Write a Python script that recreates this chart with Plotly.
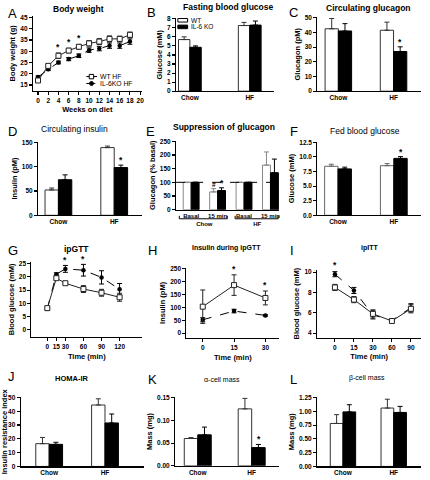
import plotly.graph_objects as go

W, H = 430, 480
FONT = "Liberation Sans, Arial, sans-serif"

# ---------------- data ----------------
weeks = [0, 2, 4, 6, 8, 10, 12, 14, 16, 18]
bw_wt = [17.0, 23.5, 28.0, 30.3, 32.0, 33.5, 34.3, 35.5, 35.5, 37.3]
bw_wt_err = [0.5, 0.8, 1.2, 1.0, 1.0, 1.2, 1.3, 1.3, 1.2, 1.2]
bw_ko = [18.5, 22.0, 25.0, 26.5, 28.0, 30.5, 31.2, 32.5, 32.5, 34.3]
bw_ko_err = [0.5, 0.6, 0.6, 0.7, 0.8, 1.0, 1.0, 1.2, 1.2, 1.2]
bw_sig_weeks = [4, 6, 8]

groups = ["Chow", "HF"]

fbg_wt = [5.7, 7.25]
fbg_wt_err = [0.3, 0.35]
fbg_ko = [4.85, 7.3]
fbg_ko_err = [0.15, 0.45]

gcg_wt = [42.5, 41.5]
gcg_wt_err = [7.0, 5.5]
gcg_ko = [41.0, 27.0]
gcg_ko_err = [5.0, 3.2]
gcg_sig = ["HF"]

ins_wt = [52.0, 139.0]
ins_wt_err = [4.0, 3.0]
ins_ko = [73.0, 98.0]
ins_ko_err = [10.0, 5.0]
ins_sig = ["HF"]

supp_diet = ["Chow", "Chow", "HF", "HF"]
supp_time = ["Basal", "15 min", "Basal", "15 min"]
supp_wt = [100, 65, 100, 163]
supp_wt_err = [0, 12, 0, 48]
supp_ko = [100, 70, 100, 135]
supp_ko_err = [0, 10, 0, 50]
basal_ref = 100

fed_wt = [8.4, 8.5]
fed_wt_err = [0.35, 0.35]
fed_ko = [7.95, 9.75]
fed_ko_err = [0.3, 0.3]
fed_sig = ["HF"]

gtt_time = [0, 15, 30, 60, 90, 120]
gtt_wt = [8.2, 19.5, 17.6, 15.4, 14.0, 12.3]
gtt_wt_err = [0.4, 0.5, 0.5, 1.3, 1.3, 1.5]
gtt_ko = [8.0, 21.0, 23.0, 22.5, 19.8, 15.3]
gtt_ko_err = [0.4, 0.5, 1.3, 2.2, 2.5, 2.2]
gtt_sig = [30, 60]

gins_time = [0, 15, 30]
gins_wt = [103, 187, 137]
gins_wt_err = [65, 40, 27]
gins_ko = [52, 86, 69]
gins_ko_err = [8, 7, 3]
gins_sig = [15, 30]

itt_time = ["0", "15", "30", "60", "90"]
itt_wt = [8.5, 7.3, 5.9, 5.2, 6.4]
itt_wt_err = [0.3, 0.3, 0.4, 0.1, 0.4]
itt_ko = [9.8, 8.2, 5.8, 5.25, 6.5]
itt_ko_err = [0.25, 0.3, 0.4, 0.1, 0.4]
itt_sig = ["0"]

homa_wt = [16.5, 44.5]
homa_wt_err = [4.5, 4.5]
homa_ko = [16.0, 31.5]
homa_ko_err = [1.5, 6.5]

alpha_wt = [0.060, 0.125]
alpha_wt_err = [0.002, 0.023]
alpha_ko = [0.068, 0.040]
alpha_ko_err = [0.017, 0.007]
alpha_sig = ["HF"]

beta_wt = [0.78, 1.06]
beta_wt_err = [0.16, 0.16]
beta_ko = [0.99, 0.98]
beta_ko_err = [0.13, 0.11]

# ---------------- helpers ----------------
fig = go.Figure()
layout = {}
annotations = []
shapes = []
axinfo = {}


def names(n):
    s = "" if n == 1 else str(n)
    return "xaxis" + s, "yaxis" + s, "x" + s, "y" + s


def font(size=7, bold=True, color="black"):
    return dict(family=FONT, size=size, color=color, weight="bold" if bold else "normal")


def setup(n, box, xr, yr, xkw=None, ykw=None, xtitle=None, ytitle=None):
    xa, ya, xref, yref = names(n)
    l, t, r, b = box
    base = dict(showline=True, linecolor="black", linewidth=1.1, showgrid=False,
                zeroline=False, ticks="outside", ticklen=3, tickwidth=1.1,
                tickcolor="black", tickfont=font(6.5), fixedrange=True, tickangle=0)
    x = dict(base, domain=[l / W, r / W], range=xr, anchor=yref)
    y = dict(base, domain=[1 - b / H, 1 - t / H], range=yr, anchor=xref)
    if xkw:
        x.update(xkw)
    if ykw:
        y.update(ykw)
    if xtitle:
        x["title"] = dict(text=xtitle, font=font(7.5), standoff=4)
    if ytitle:
        y["title"] = dict(text=ytitle, font=font(7.5), standoff=3)
    layout[xa] = x
    layout[ya] = y
    axinfo[n] = dict(pxu=(r - l) / (xr[1] - xr[0]))


def label(txt, x, y, size=13):
    annotations.append(dict(text=txt, x=x / W, y=1 - y / H, xref="paper", yref="paper",
                            xanchor="left", yanchor="top", showarrow=False,
                            font=dict(family=FONT, size=size, color="black")))


def title(txt, x, y, size=8.5, bold=True):
    annotations.append(dict(text=txt, x=x / W, y=1 - y / H, xref="paper", yref="paper",
                            xanchor="center", yanchor="middle", showarrow=False,
                            font=font(size, bold)))


def star(n, x, y, xshift=0, txt="*", size=8.5):
    _, _, xref, yref = names(n)
    annotations.append(dict(text=txt, x=x, y=y, xref=xref, yref=yref, xanchor="center",
                            yanchor="bottom", showarrow=False, xshift=xshift, yshift=-2,
                            font=font(size)))


def bars(n, cats, wt, wt_err, ko, ko_err, width, wt_line="#333333", sig=None):
    _, _, xref, yref = names(n)
    fig.add_trace(go.Bar(x=cats, y=wt, width=width, offset=-width, xaxis=xref, yaxis=yref,
                         marker=dict(color="white", line=dict(color=wt_line, width=1)),
                         error_y=dict(type="data", array=wt_err, arrayminus=[0] * len(wt),
                                      symmetric=False, color=wt_line, thickness=1, width=2.5),
                         cliponaxis=False, showlegend=False, name="WT"))
    fig.add_trace(go.Bar(x=cats, y=ko, width=width, offset=0, xaxis=xref, yaxis=yref,
                         marker=dict(color="black", line=dict(color="black", width=1)),
                         error_y=dict(type="data", array=ko_err, arrayminus=[0] * len(ko),
                                      symmetric=False, color="black", thickness=1, width=2.5),
                         cliponaxis=False, showlegend=False, name="IL-6 KO"))
    if sig:
        half = width * axinfo[n]["pxu"] / 2
        for c in sig:
            i = cats.index(c)
            star(n, c, ko[i] + ko_err[i], xshift=half)


def lines(n, x, wt, wt_err, ko, ko_err, msize=5):
    _, _, xref, yref = names(n)
    fig.add_trace(go.Scatter(x=x, y=ko, xaxis=xref, yaxis=yref, mode="lines+markers",
                             line=dict(color="black", width=1, dash="dash"),
                             marker=dict(symbol="circle", size=msize - 0.5, color="black"),
                             error_y=dict(type="data", array=ko_err, color="black",
                                          thickness=1, width=2.5),
                             cliponaxis=False, showlegend=False, name="IL-6KO"))
    fig.add_trace(go.Scatter(x=x, y=wt, xaxis=xref, yaxis=yref, mode="lines+markers",
                             line=dict(color="#222222", width=1),
                             marker=dict(symbol="square", size=msize, color="white",
                                         line=dict(color="#222222", width=1)),
                             error_y=dict(type="data", array=wt_err, color="#222222",
                                          thickness=1, width=2.5),
                             cliponaxis=False, showlegend=False, name="WT"))


notick = dict(ticks="", type="category")

# ---------------- A: body weight ----------------
setup(1, (26.5, 13, 137.5, 89), [-1.0, 20.29], [12.37, 45.75],
      xkw=dict(tickvals=list(range(0, 21, 2))), ykw=dict(tickvals=list(range(15, 46, 5))),
      xtitle="Weeks on diet", ytitle="Body weight (g)")
lines(1, weeks, bw_wt, bw_wt_err, bw_ko, bw_ko_err, msize=5)
for wk in bw_sig_weeks:
    i = weeks.index(wk)
    star(1, wk, bw_wt[i] + bw_wt_err[i] + 0.5)
label("A", -1, 1)
title("Body weight", 73, 6)
# legend A
shapes.append(dict(type="line", xref="paper", yref="paper", x0=81 / W, x1=92 / W,
                   y0=1 - 74.5 / H, y1=1 - 74.5 / H, line=dict(color="black", width=1)))
shapes.append(dict(type="rect", xref="paper", yref="paper", x0=84 / W, x1=88.5 / W,
                   y0=1 - 76.8 / H, y1=1 - 72.3 / H, fillcolor="white",
                   line=dict(color="black", width=1)))
shapes.append(dict(type="line", xref="paper", yref="paper", x0=81 / W, x1=92 / W,
                   y0=1 - 81.5 / H, y1=1 - 81.5 / H,
                   line=dict(color="black", width=1, dash="dash")))
shapes.append(dict(type="circle", xref="paper", yref="paper", x0=84.3 / W, x1=88.3 / W,
                   y0=1 - 83.5 / H, y1=1 - 79.5 / H, fillcolor="black",
                   line=dict(color="black", width=1)))
for txt, yy in (("WT HF", 74.5), ("IL-6KO HF", 81.5)):
    annotations.append(dict(text=txt, x=93 / W, y=1 - yy / H, xref="paper", yref="paper",
                            xanchor="left", yanchor="middle", showarrow=False,
                            font=font(6.8, False)))

# ---------------- B: fasting glucose ----------------
setup(2, (172.7, 15.5, 273, 89.3), [-0.23, 1.41], [0, 8.05], xkw=notick,
      ykw=dict(tickvals=list(range(0, 9))), ytitle="Glucose (mM)")
bars(2, groups, fbg_wt, fbg_wt_err, fbg_ko, fbg_ko_err, 0.19)
label("B", 141, 0)
title("Fasting blood glucose", 226, 4)
shapes.append(dict(type="rect", xref="paper", yref="paper", x0=174.5 / W, x1=184.5 / W,
                   y0=1 - 19.3 / H, y1=1 - 15.7 / H, fillcolor="white",
                   line=dict(color="black", width=1)))
shapes.append(dict(type="rect", xref="paper", yref="paper", x0=174.5 / W, x1=184.5 / W,
                   y0=1 - 26 / H, y1=1 - 22.4 / H, fillcolor="black",
                   line=dict(color="black", width=1)))
for txt, yy in (("WT", 17.5), ("IL-6 KO", 24.2)):
    annotations.append(dict(text=txt, x=186 / W, y=1 - yy / H, xref="paper", yref="paper",
                            xanchor="left", yanchor="middle", showarrow=False,
                            font=font(6.5, False)))

# ---------------- C: glucagon ----------------
setup(3, (317, 14.5, 423, 89.3), [-0.38, 1.50], [0, 50.3], xkw=notick,
      ykw=dict(tickvals=list(range(0, 51, 10))), ytitle="Glucagon (pM)")
bars(3, groups, gcg_wt, gcg_wt_err, gcg_ko, gcg_ko_err, 0.24, sig=gcg_sig)
label("C", 286, 0)
title("Circulating glucagon", 369, 5)

# ---------------- D: insulin ----------------
setup(4, (31.7, 140.5, 138, 215), [-0.365, 1.5], [0, 151], xkw=notick,
      ykw=dict(tickvals=[0, 50, 100, 150]), ytitle="Insulin (pM)")
bars(4, groups, ins_wt, ins_wt_err, ins_ko, ins_ko_err, 0.24, sig=ins_sig)
label("D", -1, 121)
title("Circulating insulin", 69, 127.5, bold=False, size=8.5)

# ---------------- E: suppression of glucagon ----------------
setup(5, (172.7, 139.5, 278, 209.3), [-0.57, 3.33], [0, 252],
      xkw=dict(ticks="", type="multicategory", showdividers=False, tickfont=font(6)),
      ykw=dict(tickvals=[0, 50, 100, 150, 200, 250]), ytitle="Glucagon (% basal)")
bars(5, [supp_diet, supp_time], supp_wt, supp_wt_err, supp_ko, supp_ko_err, 0.3,
     wt_line="#888888")
shapes.append(dict(type="line", xref="x5 domain", yref="y5", x0=0, x1=1,
                   y0=basal_ref, y1=basal_ref, line=dict(color="black", width=1, dash="dash")))
half5 = 0.3 * axinfo[5]["pxu"] / 2
annotations.append(dict(text="#", x=1, y=supp_wt[1] + supp_wt_err[1], xref="x5", yref="y5",
                        xanchor="center", yanchor="bottom", showarrow=False,
                        xshift=-half5, yshift=-1, font=font(6.5)))
annotations.append(dict(text="*", x=1, y=supp_ko[1] + supp_ko_err[1], xref="x5", yref="y5",
                        xanchor="center", yanchor="bottom", showarrow=False,
                        xshift=half5, yshift=-2, font=font(8.5)))
for x0, x1 in ((176, 225), (233, 277)):
    shapes.append(dict(type="path", xref="paper", yref="paper",
                       path=f"M {x0 / W} {1 - 215.5 / H} L {x0 / W} {1 - 218.5 / H} "
                            f"L {x1 / W} {1 - 218.5 / H} L {x1 / W} {1 - 215.5 / H}",
                       line=dict(color="black", width=1)))
label("E", 140, 121)
title("Suppression of glucagon", 222, 126)

# ---------------- F: fed glucose ----------------
setup(6, (317, 140.5, 423, 215), [-0.37, 1.49], [0, 12.6], xkw=notick,
      ykw=dict(tickvals=[0, 2.5, 5, 7.5, 10, 12.5], tickformat=".1f"), ytitle="Glucose (mM)")
bars(6, groups, fed_wt, fed_wt_err, fed_ko, fed_ko_err, 0.24, wt_line="#666666", sig=fed_sig)
label("F", 287, 121)
title("Fed blood glucose", 366, 130, bold=False)

# ---------------- G: ipGTT ----------------
setup(7, (25, 262, 138, 338.3), [-26.3, 157.4], [-2.7, 25.7],
      xkw=dict(tickvals=gtt_time), ykw=dict(tickvals=[0, 5, 10, 15, 20, 25]),
      xtitle="Time (min)", ytitle="Blood glucose (mM)")
lines(7, gtt_time, gtt_wt, gtt_wt_err, gtt_ko, gtt_ko_err, msize=5)
for t in gtt_sig:
    i = gtt_time.index(t)
    star(7, t, gtt_ko[i] + gtt_ko_err[i] + 0.1)
label("G", -1, 241)
title("ipGTT", 71, 249.5)

# ---------------- H: insulin during ipGTT ----------------
setup(8, (183.3, 268, 278, 339.3), [-7.8, 36.6], [-19.2, 255],
      xkw=dict(tickvals=gins_time), ykw=dict(tickvals=[0, 50, 100, 150, 200, 250]),
      xtitle="Time (min)", ytitle="Insulin (pM)")
lines(8, gins_time, gins_wt, gins_wt_err, gins_ko, gins_ko_err, msize=5)
for t in gins_sig:
    i = gins_time.index(t)
    star(8, t, gins_wt[i] + gins_wt_err[i] + 5)
label("H", 142, 241)
title("Insulin during ipGTT", 224, 248.5, size=7)

# ---------------- I: ipITT ----------------
setup(9, (316.7, 270, 423, 339), [-0.94, 4.54], [3.55, 10.25],
      xkw=dict(type="category"), ykw=dict(tickvals=[4, 6, 8, 10]),
      xtitle="Time (min)", ytitle="Blood glucose (mM)")
lines(9, itt_time, itt_wt, itt_wt_err, itt_ko, itt_ko_err, msize=5)
for t in itt_sig:
    i = itt_time.index(t)
    star(9, t, itt_ko[i] + itt_ko_err[i] + 0.15)
label("I", 287, 241)
title("ipITT", 370, 248.5, size=7)

# ---------------- J: HOMA-IR ----------------
setup(10, (14, 399, 140, 469.3), [-0.51, 1.70], [0, 50.3], xkw=notick,
      ykw=dict(tickvals=[0, 10, 20, 30, 40, 50]), ytitle="Insulin resistance index")
bars(10, groups, homa_wt, homa_wt_err, homa_ko, homa_ko_err, 0.24)
label("J", -1, 369)
title("HOMA-IR", 66, 380, size=7.5)

# ---------------- K: alpha-cell mass ----------------
setup(11, (171.7, 399, 278, 468.7), [-0.42, 1.51], [0, 0.151], xkw=notick,
      ykw=dict(tickvals=[0, 0.05, 0.10, 0.15], tickformat=".2f"), ytitle="Mass (mg)")
bars(11, groups, alpha_wt, alpha_wt_err, alpha_ko, alpha_ko_err, 0.25, sig=alpha_sig)
label("K", 142, 372)
title("α-cell mass", 219.5, 381.5, size=7, bold=False)

# ---------------- L: beta-cell mass ----------------
setup(12, (316.7, 399, 423, 469.3), [-0.51, 1.54], [0, 1.26], xkw=notick,
      ykw=dict(tickvals=[0, 0.25, 0.5, 0.75, 1.0, 1.25], tickformat=".2f"), ytitle="Mass (mg)")
bars(12, groups, beta_wt, beta_wt_err, beta_ko, beta_ko_err, 0.25)
label("L", 287, 372)
title("β-cell mass", 367.5, 380, size=7, bold=False)

fig.update_layout(**layout)
fig.update_layout(width=W, height=H, margin=dict(l=0, r=0, t=0, b=0),
                  paper_bgcolor="white", plot_bgcolor="white", barmode="overlay",
                  showlegend=False, annotations=annotations, shapes=shapes,
                  font=dict(family=FONT, color="black"))
fig.write_html("out.html", config={"displayModeBar": False, "staticPlot": True},
               post_script="document.body.style.margin='0px';")
